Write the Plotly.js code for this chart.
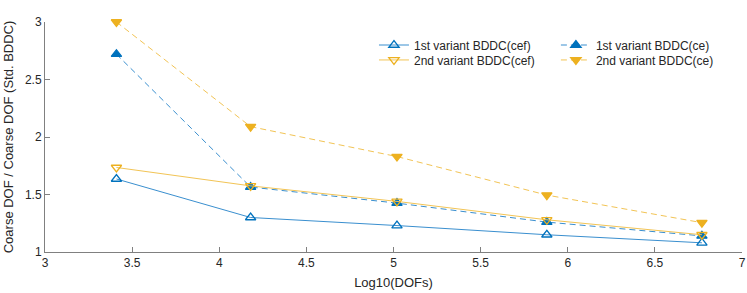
<!DOCTYPE html>
<html><head><meta charset="utf-8">
<script src="https://cdn.plot.ly/plotly-3.0.1.min.js"></script>
<style>body{margin:0;padding:0;background:#fff}#chart{width:747px;height:293px}</style>
</head><body><div id="chart"></div>
<script>
const logDofs = [3.41, 4.18, 5.02, 5.88, 6.77];
const firstCef = [1.635, 1.30, 1.23, 1.15, 1.08];
const secondCef = [1.735, 1.575, 1.44, 1.28, 1.15];
const firstCe = [2.72, 1.565, 1.425, 1.26, 1.14];
const secondCe = [3.0, 2.09, 1.83, 1.495, 1.255];
const names = ['1st variant BDDC(cef)', '1st variant BDDC(ce)', '2nd variant BDDC(cef)', '2nd variant BDDC(ce)'];
const xTicks = [3, 3.5, 4, 4.5, 5, 5.5, 6, 6.5, 7];
const yTicks = [1, 1.5, 2, 2.5, 3];

const blue = '#0072BD', orange = '#EDB120';
const lblue = '#3a8fcf', lorange = '#f2c455';
function tr(y, name, lc, mc, dash, sym, leg) {
  return {x: logDofs, y: y, name: name, type: 'scatter', mode: 'lines+markers', cliponaxis: false, legend: leg,
    line: {color: lc, width: 1, dash: dash},
    marker: {symbol: sym, size: 9, color: mc, line: {color: mc, width: 1.3}}};
}
const data = [
  tr(firstCef, names[0], lblue, blue, 'solid', 'triangle-up-open', 'legend'),
  tr(firstCe, names[1], lblue, blue, '6px,4px', 'triangle-up', 'legend2'),
  tr(secondCef, names[2], lorange, orange, 'solid', 'triangle-down-open', 'legend3'),
  tr(secondCe, names[3], lorange, orange, '6px,4px', 'triangle-down', 'legend4')
];
const tf = {family: 'Liberation Sans, Arial', size: 12, color: '#262626'};
const axisCommon = {showgrid: false, zeroline: false, showline: true, linecolor: '#808080', linewidth: 1,
  ticks: 'inside', ticklen: 5, tickcolor: '#808080', tickfont: tf};
function leg(x, y) {
  return {x: x, y: y, xanchor: 'left', yanchor: 'middle', bgcolor: 'rgba(255,255,255,0)', borderwidth: 0,
    font: {family: 'Liberation Sans, Arial', size: 12, color: '#262626'}};
}
const layout = {
  width: 747, height: 293,
  margin: {l: 45, r: 5, t: 22, b: 41},
  paper_bgcolor: '#fff', plot_bgcolor: '#fff',
  showlegend: true,
  xaxis: Object.assign({}, axisCommon, {range: [3, 7], tickvals: xTicks, ticktext: xTicks.map(String),
    title: {text: 'Log10(DOFs)', font: {family: 'Liberation Sans, Arial', size: 13, color: '#262626'}, standoff: 8}}),
  yaxis: Object.assign({}, axisCommon, {range: [1, 3], tickvals: yTicks, ticktext: yTicks.map(String),
    title: {text: 'Coarse DOF / Coarse DOF (Std. BDDC)', font: {family: 'Liberation Sans, Arial', size: 13, color: '#262626'}, standoff: 8}}),
  legend: leg(0.472, 0.9),
  legend2: leg(0.733, 0.9),
  legend3: leg(0.472, 0.835),
  legend4: leg(0.733, 0.835)
};
Plotly.newPlot('chart', data, layout, {displayModeBar: false, staticPlot: true});
</script></body></html>
